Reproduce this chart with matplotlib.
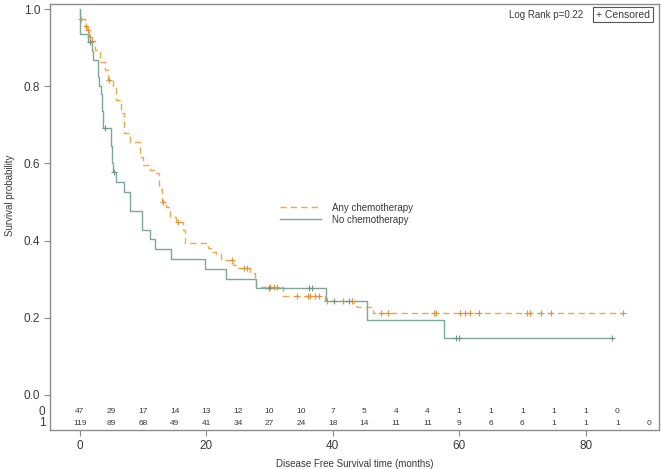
import matplotlib
matplotlib.use("Agg")
import matplotlib.pyplot as plt

plt.rcParams['font.family'] = ['Liberation Sans', 'DejaVu Sans']

# ---- data ----
chemo_t = [0.0, 0.1, 0.9, 1.2, 1.5, 1.8, 2.4, 3.2, 4.0, 4.5, 5.3, 5.8, 6.6, 7.0, 7.9,
           9.5, 10.0, 11.1, 11.9, 12.6, 13.0, 13.7, 14.3, 15.2, 16.3, 16.6, 20.3, 20.8,
           21.6, 22.4, 24.3, 24.8, 26.9, 27.7, 27.9, 32.2, 38.8, 43.3, 43.8, 46.3, 85.9]
chemo_s = [1.0, 0.975, 0.958, 0.946, 0.928, 0.919, 0.894, 0.864, 0.843, 0.817, 0.795,
           0.765, 0.730, 0.678, 0.656, 0.618, 0.596, 0.583, 0.574, 0.535, 0.500, 0.488,
           0.462, 0.449, 0.427, 0.393, 0.380, 0.371, 0.365, 0.350, 0.337, 0.328, 0.315,
           0.298, 0.279, 0.256, 0.244, 0.230, 0.227, 0.213, 0.213]
chemo_cens_t = [0.2, 1.0, 1.3, 1.6, 1.9, 4.7, 13.2, 15.6, 24.1, 25.9, 26.4, 30.1, 30.7,
                31.2, 34.3, 36.1, 36.4, 37.2, 37.8, 39.1, 41.7, 43.0, 47.7, 48.8, 56.0,
                56.4, 60.2, 60.9, 61.7, 63.2, 70.8, 71.2, 72.9, 74.6, 85.9]

nochemo_t = [0.0, 0.05, 1.3, 2.0, 2.1, 2.9, 3.1, 3.3, 3.5, 3.7, 4.9, 5.1, 5.2, 5.7, 7.0,
             7.9, 9.8, 11.1, 11.9, 14.5, 19.8, 23.1, 27.9, 39.0, 45.5, 57.6, 84.2]
nochemo_s = [1.0, 0.936, 0.915, 0.893, 0.868, 0.825, 0.800, 0.780, 0.735, 0.693, 0.646,
             0.600, 0.577, 0.551, 0.527, 0.477, 0.427, 0.403, 0.378, 0.351, 0.325, 0.301,
             0.278, 0.243, 0.195, 0.146, 0.146]
nochemo_cens_t = [1.6, 4.0, 5.4, 29.9, 36.3, 36.7, 40.2, 42.6, 59.5, 59.9, 84.2]

risk_times = [0, 5, 10, 15, 20, 25, 30, 35, 40, 45, 50, 55, 60, 65, 70, 75, 80, 85, 90]
risk_row0 = [47, 29, 17, 14, 13, 12, 10, 10, 7, 5, 4, 4, 1, 1, 1, 1, 1, 0]
risk_row1 = [119, 89, 68, 49, 41, 34, 27, 24, 18, 14, 11, 11, 9, 6, 6, 1, 1, 1, 0]

x_ticks = [0, 20, 40, 60, 80]
y_ticks = [0.0, 0.2, 0.4, 0.6, 0.8, 1.0]

# ---- helpers ----
def surv_at(ts, ss, t):
    val = ss[0]
    for ti, si in zip(ts, ss):
        if ti <= t:
            val = si
        else:
            break
    return val

orange = '#EDA847'
orange_c = '#E8913A'
green = '#7FA898'
green_c = '#6F968A'
spine_c = '#8C8C8C'
txt = '#3A3A3A'

fig = plt.figure(figsize=(6.61, 4.69), dpi=100)
ax = fig.add_axes([50/661, 1-430/469, 609/661, 426/469])

ax.plot(chemo_t, chemo_s, drawstyle='steps-post', color=orange, lw=1.0,
        linestyle=(0, (4.5, 3)), label='Any chemotherapy')
ax.plot(nochemo_t, nochemo_s, drawstyle='steps-post', color=green, lw=1.0,
        label='No chemotherapy')

ax.plot(chemo_cens_t, [surv_at(chemo_t, chemo_s, t) for t in chemo_cens_t],
        linestyle='none', marker='+', ms=5, mew=0.8, color=orange_c)
ax.plot(nochemo_cens_t, [surv_at(nochemo_t, nochemo_s, t) for t in nochemo_cens_t],
        linestyle='none', marker='+', ms=5, mew=0.8, color=green_c)

ax.set_xlim(-4.7, 91.6)
ax.set_ylim(-0.0916, 1.0138)
ax.set_xticks(x_ticks)
ax.set_yticks(y_ticks)
ax.set_xticklabels([str(v) for v in x_ticks])
ax.set_yticklabels([f'{v:.1f}' for v in y_ticks])
ax.tick_params(direction='out', length=4, width=0.8, color=spine_c,
               labelsize=8.5, labelcolor=txt, pad=3)
for s in ax.spines.values():
    s.set_color(spine_c)
    s.set_linewidth(1.0)

# risk table
for t, n in zip(risk_times, risk_row0):
    ax.text(t, -0.044, str(n), ha='center', va='center', fontsize=6, color=txt)
for t, n in zip(risk_times, risk_row1):
    ax.text(t, -0.074, str(n), ha='center', va='center', fontsize=6, color=txt)
ax.text(-5.4, -0.044, '0', ha='right', va='center', fontsize=8.5, color=txt,
        transform=ax.transData, clip_on=False)
ax.text(-5.4, -0.074, '1', ha='right', va='center', fontsize=8.5, color=txt,
        transform=ax.transData, clip_on=False)

ax.set_xlabel('Disease Free Survival time (months)', fontsize=7, color=txt, labelpad=5)
fig.text(10/661, 1-195/469, 'Survival probability', rotation=90, ha='center',
         va='center', fontsize=7, color=txt)

leg = ax.legend(loc='upper left', bbox_to_anchor=(225/609, 1-(198-4)/426),
                frameon=False, fontsize=7, handlelength=4.2, handletextpad=1.2,
                labelspacing=0.2, borderpad=0)
for t in leg.get_texts():
    t.set_color(txt)

ax.text((583-50)/609, 0.975, 'Log Rank p=0.22', transform=ax.transAxes, ha='right',
        va='center', fontsize=7, color=txt)
ax.text((650-50)/609, 0.975, '+ Censored', transform=ax.transAxes, ha='right', va='center',
        fontsize=7.5, color=txt,
        bbox=dict(boxstyle='square,pad=0.25', fc='white', ec='#555555', lw=0.8))

fig.savefig('out.png', dpi=100, facecolor='white')
